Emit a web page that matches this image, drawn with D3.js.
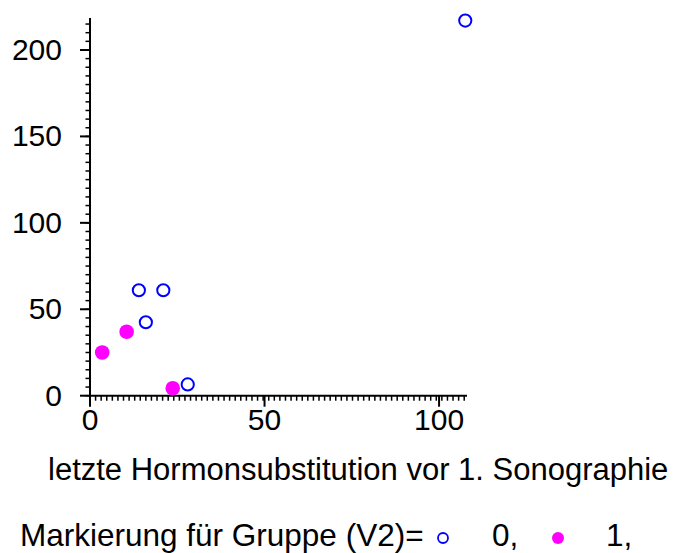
<!DOCTYPE html>
<html>
<head>
<meta charset="utf-8">
<script src="https://cdn.jsdelivr.net/npm/d3@7"></script>
<style>
  html, body { margin: 0; padding: 0; background: #fff; }
  svg { display: block; font-family: "Liberation Sans", Arial, sans-serif; }
</style>
</head>
<body>
<svg id="chart" width="674" height="553"></svg>
<script>
// Group 0 (open blue circles)
const group0X = [14, 21, 16, 28, 107.5];
const group0Y = [61, 61, 42.5, 6.5, 217];
// Group 1 (filled magenta dots)
const group1X = [3.5, 10.5, 23.7];
const group1Y = [25, 37, 4.3];

const xTicks = [0, 50, 100];
const yTicks = [0, 50, 100, 150, 200];
const xTitle = "letzte Hormonsubstitution vor 1. Sonographie";
const legendPrefix = "Markierung für Gruppe (V2)=";
const legendLabels = ["0,", "1,"];

const svg = d3.select("#chart");
const tickFont = 30;

const x = d3.scaleLinear().domain([0, 108]).range([90, 467]);
const y = d3.scaleLinear().domain([0, 218.5]).range([395.7, 18]);

// Axis lines
svg.append("line").attr("x1", x(0)).attr("x2", x(108)).attr("y1", y(0)).attr("y2", y(0))
  .attr("stroke", "#000").attr("stroke-width", 2);
svg.append("line").attr("x1", x(0)).attr("x2", x(0)).attr("y1", y(0)).attr("y2", y(218.5))
  .attr("stroke", "#000").attr("stroke-width", 2);

// Minor ticks
const xMinor = d3.range(0, 108.01, 1.6);
svg.append("g").selectAll("line").data(xMinor).join("line")
  .attr("x1", d => x(d)).attr("x2", d => x(d))
  .attr("y1", y(0)).attr("y2", y(0) + 5)
  .attr("stroke", "#000").attr("stroke-width", 1.5);
const yMinor = d3.range(0, 218.6, 5);
svg.append("g").selectAll("line").data(yMinor).join("line")
  .attr("x1", x(0) - 4.5).attr("x2", x(0))
  .attr("y1", d => y(d)).attr("y2", d => y(d))
  .attr("stroke", "#000").attr("stroke-width", 1.5);

// Major ticks and labels
const xg = svg.append("g");
xg.selectAll("line").data(xTicks).join("line")
  .attr("x1", d => x(d)).attr("x2", d => x(d))
  .attr("y1", y(0)).attr("y2", y(0) + 11)
  .attr("stroke", "#000").attr("stroke-width", 2);
xg.selectAll("text").data(xTicks).join("text")
  .attr("x", d => x(d)).attr("y", y(0) + 34)
  .attr("text-anchor", "middle").attr("font-size", tickFont).attr("fill", "#000")
  .text(d => d);

const yg = svg.append("g");
yg.selectAll("line").data(yTicks).join("line")
  .attr("x1", x(0) - 10).attr("x2", x(0))
  .attr("y1", d => y(d)).attr("y2", d => y(d))
  .attr("stroke", "#000").attr("stroke-width", 2);
yg.selectAll("text").data(yTicks).join("text")
  .attr("x", 62).attr("y", d => y(d) + 10)
  .attr("text-anchor", "end").attr("font-size", tickFont).attr("fill", "#000")
  .text(d => d);

// Axis title
svg.append("text").attr("x", 48).attr("y", 480)
  .attr("font-size", 31).attr("fill", "#000").text(xTitle);

// Points
const g0 = group0X.map((v, i) => ({ x: v, y: group0Y[i] }));
const g1 = group1X.map((v, i) => ({ x: v, y: group1Y[i] }));
svg.append("g").selectAll("circle").data(g1).join("circle")
  .attr("cx", d => x(d.x)).attr("cy", d => y(d.y)).attr("r", 7.3)
  .attr("fill", "#ff00ff");
svg.append("g").selectAll("circle").data(g0).join("circle")
  .attr("cx", d => x(d.x)).attr("cy", d => y(d.y)).attr("r", 6.1)
  .attr("fill", "none").attr("stroke", "#0000ff").attr("stroke-width", 2);

// Legend
const legendFont = 31.5;
svg.append("text").attr("x", 20).attr("y", 546)
  .attr("font-size", legendFont).attr("fill", "#000").text(legendPrefix);
svg.append("circle").attr("cx", 443).attr("cy", 538).attr("r", 5)
  .attr("fill", "none").attr("stroke", "#0000ff").attr("stroke-width", 1.8);
svg.append("text").attr("x", 492).attr("y", 546)
  .attr("font-size", legendFont).attr("fill", "#000").text(legendLabels[0]);
svg.append("circle").attr("cx", 558).attr("cy", 538).attr("r", 6)
  .attr("fill", "#ff00ff");
svg.append("text").attr("x", 606).attr("y", 546)
  .attr("font-size", legendFont).attr("fill", "#000").text(legendLabels[1]);
</script>
</body>
</html>
